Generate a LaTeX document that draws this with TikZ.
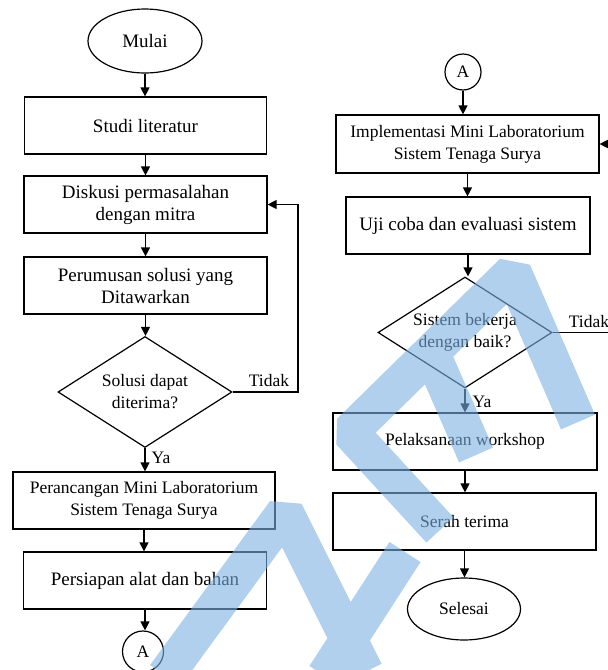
\documentclass[tikz,border=0pt]{standalone}
\usepackage{fontspec}
\setmainfont{Liberation Serif}
\usetikzlibrary{shapes.geometric,arrows.meta}
\definecolor{wmblue}{RGB}{123,177,227}
\begin{document}
\begin{tikzpicture}[x=1pt,y=-1pt,
  line width=1.2pt,
  big/.style={font=\fontsize{19}{22}\selectfont},
  small/.style={font=\fontsize{17.5}{22}\selectfont},
  box/.style={draw,rectangle,minimum height=57,inner sep=0,align=center},
  term/.style={draw,ellipse,inner sep=0},
  dec/.style={draw,diamond,shape aspect=1.57,minimum width=174,minimum height=111,inner sep=0,align=center,small},
  conn/.style={draw,circle,inner sep=0,small},
  arr/.style={-{Triangle[length=9pt,width=9pt]}},
  lbl/.style={inner sep=0,small},
  wmband/.style={draw=wmblue,opacity=0.6,line width=37pt,line cap=butt,line join=bevel}]
\useasboundingbox (0,0) rectangle (608,670);
% left column
\node[term,big,minimum width=114,minimum height=64] (mulai) at (145,41) {Mulai};
\node[box,big,minimum width=242] (studi) at (145.5,125.5) {Studi literatur};
\node[box,big,minimum width=243] (disk) at (145.5,204.5) {Diskusi permasalahan\\dengan mitra};
\node[box,big,minimum width=243] (perum) at (145.5,285.5) {Perumusan solusi yang\\Ditawarkan};
\node[dec] (sol) at (145,392) {Solusi dapat\\diterima?};
\node[box,small,minimum width=262] (peran) at (144,500.5) {Perancangan Mini Laboratorium\\Sistem Tenaga Surya};
\node[box,big,minimum width=243] (pers) at (145,580.5) {Persiapan alat dan bahan};
\node[conn,minimum size=41] (aleft) at (143,651.5) {A};
\coordinate (loopR) at (298,392);
\node[lbl] (tidak1) at (269,381) {Tidak};
\node[lbl] (ya1) at (161,458) {Ya};
% right column
\node[conn,minimum size=36] (aright) at (463,72) {A};
\node[box,small,minimum width=263,minimum height=58] (impl) at (467.5,144) {Implementasi Mini Laboratorium\\Sistem Tenaga Surya};
\node[box,big,minimum width=244] (uji) at (468,225.5) {Uji coba dan evaluasi sistem};
\node[dec] (sis) at (465,332.5) {Sistem bekerja\\dengan baik?};
\node[box,small,minimum width=264] (pelak) at (465,441.5) {Pelaksanaan workshop};
\node[box,small,minimum width=263] (serah) at (464.5,521.5) {Serah terima};
\node[term,small,minimum width=113,minimum height=62] (selesai) at (464,609) {Selesai};
\node[lbl] (tidak2) at (589,322) {Tidak};
\node[lbl] (ya2) at (482,402) {Ya};
\coordinate (edgeA) at (612,144);
\coordinate (edgeB) at (612,332.5);
% connectors left
\draw[arr] (mulai.south) -- (mulai.south |- studi.north);
\draw[arr] (studi.south) -- (studi.south |- disk.north);
\draw[arr] (disk.south) -- (disk.south |- perum.north);
\draw[arr] (perum.south) -- (perum.south |- sol.north);
\draw[arr] (sol.south) -- (sol.south |- peran.north);
\draw[arr] (peran.south) -- (peran.south |- pers.north);
\draw[arr] (pers.south) -- (pers.south |- aleft.north);
\draw[arr] (sol.east) -- (loopR) |- (disk.east);
% connectors right
\draw[arr] (aright.south) -- (aright.south |- impl.north);
\draw[arr] (impl.south) -- (impl.south |- uji.north);
\draw[arr] (uji.south) -- (uji.south |- sis.north);
\draw[arr] (sis.south) -- (sis.south |- pelak.north);
\draw[arr] (pelak.south) -- (pelak.south |- serah.north);
\draw[arr] (serah.south) -- (serah.south |- selesai.north);
\draw (sis.east) -- (edgeB);
\draw[arr] (edgeA) -- (impl.east);
% watermark (partly visible DRAFT strokes), one path so overlaps are not darker
\draw[wmband] (578,422) -- (513,272) -- (350,432) -- (440,530)
  (431,352) -- (476,455)
  (165,676) -- (285,512) -- (365,672)
  (405,552) -- (325,676);
\end{tikzpicture}
\end{document}
